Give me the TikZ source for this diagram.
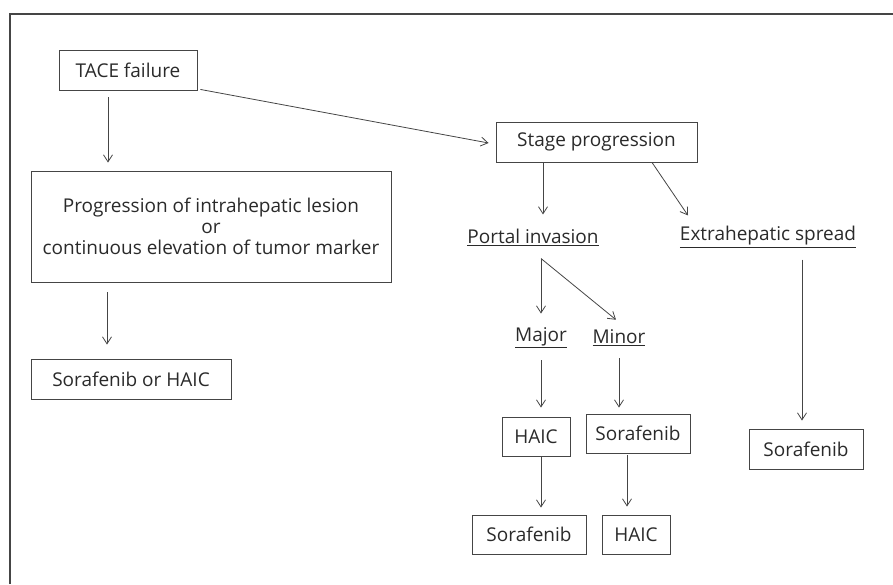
\documentclass[tikz,border=0pt]{standalone}
\usepackage{fontspec}
\setmainfont{Open Sans}
\usetikzlibrary{arrows.meta,calc}
\definecolor{ink}{HTML}{2A2A2A}
\definecolor{linec}{HTML}{454545}
\begin{document}
\begin{tikzpicture}[x=1pt,y=-1pt,
  box/.style={draw=linec,line width=0.9pt,text=ink,inner sep=0pt,minimum height=40pt,align=center,font=\fontsize{19}{21}\selectfont},
  lbl/.style={text=ink,inner sep=0pt,font=\fontsize{19}{21}\selectfont},
  arr/.style={draw=linec,line width=0.8pt,-{Straight Barb[length=7pt,width=9pt]}},
]
\useasboundingbox (0,0) rectangle (893,584);
\draw[linec,line width=1.4pt] (10,584) -- (10,14) -- (893,14);

\node[box,minimum width=138pt] (tace) at (128,70) {TACE failure};
\node[box,minimum width=360pt,minimum height=111pt] (prog) at (211,226.5)
  {Progression of intrahepatic lesion\\or\\continuous elevation of tumor marker};
\node[box,minimum width=200pt] (sorhaic) at (131,379) {Sorafenib or HAIC};
\node[box,minimum width=201pt] (stage) at (596.5,142) {Stage progression};
\node[lbl] (portal) at (533,237) {\underline{Portal invasion}};
\node[lbl] (extra) at (768,237) {\underline{Extrahepatic spread}};
\node[lbl] (major) at (541,338) {\underline{Major}};
\node[lbl] (minor) at (619,338) {\underline{Minor}};
\node[box,minimum width=68pt,minimum height=39pt] (haic1) at (536,436.5) {HAIC};
\node[box,minimum width=104pt,minimum height=39pt] (sor1) at (638,433.5) {Sorafenib};
\node[box,minimum width=114pt,minimum height=39pt] (sor2) at (529,534.5) {Sorafenib};
\node[box,minimum width=68pt,minimum height=39pt] (haic2) at (636,534.5) {HAIC};
\node[box,minimum width=114pt] (sor3) at (806,449) {Sorafenib};

% arrows (y grows downward)
\draw[arr] ($(tace.south)+(-20,7)$) -- ($(tace.south |- prog.north)+(-20,-8)$);
\draw[arr] ($(prog.south)+(-104,10)$) -- ($(prog.south |- sorhaic.north)+(-104,-14)$);
\draw[arr] ($(tace.south east)+(3,-1)$) -- ($(stage.west)+(-7,1)$);
\draw[arr] ($(stage.south)+(-53.5,0)$) -- ($(stage.south)+(-53.5,52)$);
\draw[arr] ($(stage.south)+(55.5,0)$) -- ($(stage.south)+(91.5,53)$);
\draw[arr] ($(portal.south)+(8,13)$) -- ($(major.north)+(0,-14)$);
\draw[arr] ($(portal.south)+(8,13)$) -- ($(minor.north)+(-3,-10)$);
\draw[arr] ($(major.south)+(0,12)$) -- ($(haic1.north)+(5,-9)$);
\draw[arr] ($(minor.south)+(0,12)$) -- ($(sor1.north)+(-19,-6)$);
\draw[arr] ($(extra.south)+(34,12)$) -- ($(sor3.north)+(-4,-8)$);
\draw[arr] ($(haic1.south)+(5,0)$) -- ($(sor2.north)+(12,-7)$);
\draw[arr] ($(sor1.south)+(-11,2)$) -- ($(haic2.north)+(-9,-8)$);
\end{tikzpicture}
\end{document}
